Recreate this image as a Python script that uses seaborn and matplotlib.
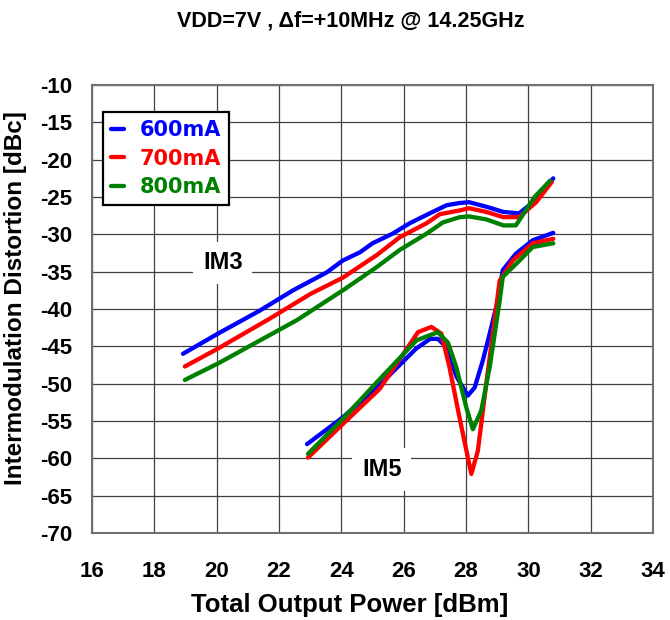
import matplotlib
matplotlib.use("Agg")
import matplotlib.pyplot as plt
import seaborn as sns
import pandas as pd
from matplotlib.lines import Line2D
from matplotlib.font_manager import FontProperties

# ---- data ----
im3_600_x = [18.92, 20.04, 21.39, 22.45, 23.53, 24.05, 24.6, 25.0, 25.65, 26.2, 26.93, 27.38, 27.8, 28.1, 28.65, 29.2, 29.7, 30.25, 30.8]
im3_600_y = [-46.0, -43.3, -40.2, -37.5, -35.1, -33.5, -32.4, -31.2, -29.9, -28.5, -27.0, -26.1, -25.8, -25.7, -26.3, -27.0, -27.2, -25.4, -22.5]
im3_700_x = [18.98, 20.04, 21.7, 23.0, 24.05, 25.13, 25.87, 26.74, 27.16, 27.8, 28.1, 28.65, 29.2, 29.7, 30.25, 30.75]
im3_700_y = [-47.7, -45.3, -41.3, -38.0, -35.8, -32.8, -30.4, -28.5, -27.3, -26.8, -26.5, -27.0, -27.7, -27.7, -25.7, -23.0]
im3_800_x = [18.98, 20.04, 22.57, 24.05, 25.13, 25.87, 26.74, 27.26, 27.8, 28.1, 28.65, 29.2, 29.6, 30.2, 30.7]
im3_800_y = [-49.5, -47.3, -41.5, -37.5, -34.4, -32.1, -29.9, -28.4, -27.7, -27.6, -28.0, -28.8, -28.8, -25.0, -22.8]

im5_600_x = [22.9, 24.05, 25.2, 26.4, 26.85, 27.1, 27.37, 27.7, 28.06, 28.28, 28.54, 28.76, 29.02, 29.18, 29.6, 30.14, 30.8]
im5_600_y = [-58.1, -54.5, -50.3, -45.3, -44.0, -44.0, -45.1, -49.1, -51.6, -50.5, -46.9, -43.3, -38.9, -34.8, -32.6, -30.8, -29.8]
im5_700_x = [22.93, 24.05, 25.23, 26.46, 26.89, 27.21, 27.47, 27.79, 28.17, 28.38, 28.65, 28.86, 29.08, 29.5, 30.14, 30.8]
im5_700_y = [-59.9, -55.4, -50.7, -43.1, -42.4, -43.3, -47.8, -54.5, -62.1, -59.0, -50.0, -43.3, -36.2, -33.5, -31.2, -30.6]
im5_800_x = [22.93, 24.05, 25.23, 26.41, 27.1, 27.42, 27.69, 28.01, 28.22, 28.49, 28.76, 29.08, 29.18, 29.72, 30.14, 30.8]
im5_800_y = [-59.4, -54.7, -49.4, -44.2, -43.1, -44.5, -47.8, -53.2, -56.1, -53.6, -47.8, -38.9, -35.7, -33.5, -31.7, -31.2]

series_labels = ["600mA", "700mA", "800mA"]
colors = ["#0000FF", "#FF0000", "#008000"]
x_ticks = [16, 18, 20, 22, 24, 26, 28, 30, 32, 34]
y_ticks = [-10, -15, -20, -25, -30, -35, -40, -45, -50, -55, -60, -65, -70]

sns.set_theme(style="white")
plt.rcParams['font.family'] = ['Liberation Sans', 'DejaVu Sans']
for k in ['text.color', 'axes.labelcolor', 'xtick.color', 'ytick.color']:
    plt.rcParams[k] = 'black'

fig = plt.figure(figsize=(6.7, 6.2), dpi=100)
ax = fig.add_axes([92/670, 1-533/620, (653-92)/670, (533-85)/620])

frames = []
for lab, (x, y) in zip(series_labels, [(im3_600_x, im3_600_y), (im3_700_x, im3_700_y), (im3_800_x, im3_800_y)]):
    frames.append(pd.DataFrame({"x": x, "y": y, "bias": lab, "kind": "IM3"}))
for lab, (x, y) in zip(series_labels, [(im5_600_x, im5_600_y), (im5_700_x, im5_700_y), (im5_800_x, im5_800_y)]):
    frames.append(pd.DataFrame({"x": x, "y": y, "bias": lab, "kind": "IM5"}))
df = pd.concat(frames, ignore_index=True)

pal = dict(zip(series_labels, colors))
for kind in ["IM3", "IM5"]:
    sub = df[df.kind == kind]
    sns.lineplot(data=sub, x="x", y="y", hue="bias", palette=pal, sort=False,
                 estimator=None, linewidth=3.1, ax=ax, legend=False, zorder=3)

ax.set_xlim(16, 34)
ax.set_ylim(-70, -10)
ax.set_xticks(x_ticks)
ax.set_yticks(y_ticks)
ax.set_xticklabels([str(t) for t in x_ticks], fontsize=16, fontweight='bold')
ax.set_yticklabels([str(t) for t in y_ticks], fontsize=16, fontweight='bold')
ax.tick_params(axis='x', length=0, pad=20)
ax.tick_params(axis='y', length=0, pad=14)
ax.grid(True, color='#404040', linewidth=0.9)
for s in ax.spines.values():
    s.set_color('#707070')
    s.set_linewidth(1.5)

ax.set_xlabel("Total Output Power [dBm]", fontsize=18.5, fontweight='bold')
ax.set_ylabel("Intermodulation Distortion [dBc]", fontsize=17.5, fontweight='bold')
ax.xaxis.set_label_coords(0.46, -0.161)
ax.xaxis.label.set_va('center')
ax.yaxis.set_label_coords(-0.137, 0.525)
ax.yaxis.label.set_va('center')

fig.text(351/670, 1-21/620, "VDD=7V , Δf=+10MHz @ 14.25GHz", ha='center', va='center',
         fontsize=15.5, fontweight='bold')

ax.text(20.2, -33.8, "IM3", fontsize=17, fontweight='bold', ha='center', va='center',
        bbox=dict(facecolor='white', edgecolor='none', pad=7), zorder=4)
ax.text(25.3, -61.5, "IM5", fontsize=17, fontweight='bold', ha='center', va='center',
        bbox=dict(facecolor='white', edgecolor='none', pad=7), zorder=4)

handles = [Line2D([0], [0], color=c, linewidth=3.1) for c in colors]
leg_font = FontProperties(family='DejaVu Sans', weight='bold', size=15)
leg = ax.legend(handles, series_labels, loc='upper left', bbox_to_anchor=(0.0196, 0.9397),
                prop=leg_font, frameon=True, fancybox=False,
                handlelength=0.6, handletextpad=0.75, borderpad=0.4, labelspacing=0.4,
                borderaxespad=0)
leg.get_frame().set_edgecolor('black')
leg.get_frame().set_linewidth(1.6)
leg.get_frame().set_alpha(1)
leg.set_zorder(5)
for t, c in zip(leg.get_texts(), colors):
    t.set_color(c)

fig.savefig("out.png", dpi=100)
